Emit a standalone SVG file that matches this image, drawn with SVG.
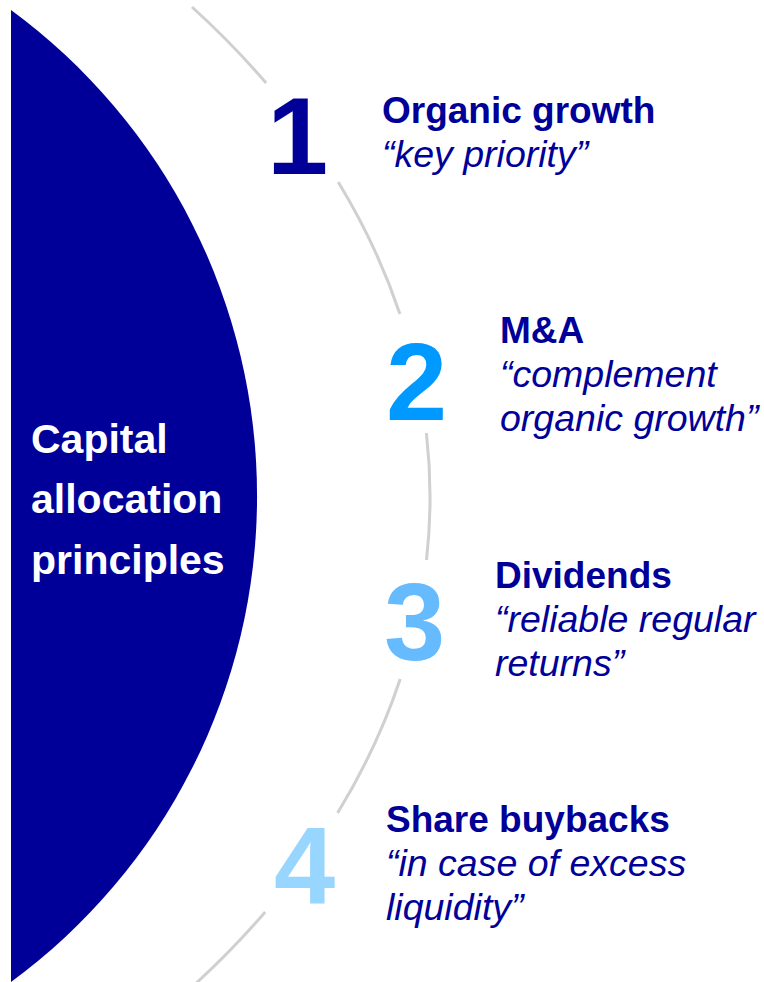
<svg xmlns="http://www.w3.org/2000/svg" width="764" height="982" viewBox="0 0 764 982">
<style>
.arc{fill:none;stroke:#D0D0D0;stroke-width:3}
.num{font-family:"Liberation Sans",Arial,sans-serif;font-weight:bold;font-size:110px}
.h{font-family:"Liberation Sans",Arial,sans-serif;font-weight:bold;font-size:37px;fill:#000099}
.q{font-family:"Liberation Sans",Arial,sans-serif;font-style:italic;font-size:37.5px;fill:#000099}
.c{font-family:"Liberation Sans",Arial,sans-serif;font-weight:bold;font-size:41px;fill:#FFFFFF}
</style>
<rect width="764" height="982" fill="#FFFFFF"/>
<g id="core">
<path d="M 11 10 A 603 603 0 0 1 11 982 Z" fill="#000099"/>
<text class="c" x="31" y="453">Capital</text>
<text class="c" x="31" y="513">allocation</text>
<text class="c" x="31" y="574">principles</text>
</g>
<g id="connectors">
<path class="arc" d="M 192 7 A 1136 800 0 0 1 266.1 83"/>
<path class="arc" d="M 338.2 182 A 1136 800 0 0 1 399.9 314"/>
<path class="arc" d="M 426.4 433 A 1136 800 0 0 1 426.5 560"/>
<path class="arc" d="M 400.2 679 A 1136 800 0 0 1 337.6 813"/>
<path class="arc" d="M 265.2 912 A 1136 800 0 0 1 194.2 985"/>
</g>
<g id="p1">
<text class="num" x="267" y="174" fill="#000099">1</text>
<text class="h" x="382" y="123">Organic growth</text>
<text class="q" x="382" y="167">“key priority”</text>
</g>
<g id="p2">
<text class="num" x="386" y="420" fill="#0099FF">2</text>
<text class="h" x="500" y="343">M&amp;A</text>
<text class="q" x="500" y="387">“complement</text>
<text class="q" x="500" y="431">organic growth”</text>
</g>
<g id="p3">
<text class="num" x="384" y="660" fill="#66BBFF">3</text>
<text class="h" x="495" y="588">Dividends</text>
<text class="q" x="495" y="632">“reliable regular</text>
<text class="q" x="495" y="676">returns”</text>
</g>
<g id="p4">
<text class="num" x="274" y="903" fill="#99D6FF">4</text>
<text class="h" x="386" y="832">Share buybacks</text>
<text class="q" x="386" y="876">“in case of excess</text>
<text class="q" x="386" y="920">liquidity”</text>
</g>
</svg>
